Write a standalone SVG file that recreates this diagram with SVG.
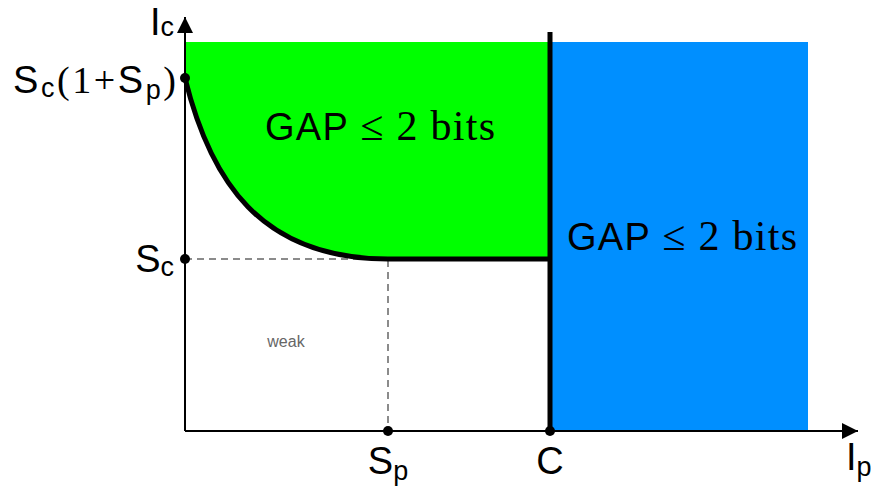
<svg xmlns="http://www.w3.org/2000/svg" width="872" height="489" viewBox="0 0 872 489">
<style>
.lab{font-family:"Liberation Sans","DejaVu Sans",sans-serif;font-size:38px;fill:#000}
.ser{font-family:"Liberation Serif","DejaVu Serif",serif}
.gap{font-size:38px}
.gs{font-size:42px}
.dash{stroke:#666;stroke-width:1.5;stroke-dasharray:7 5;fill:none}
.thick{stroke:#000;stroke-width:5;fill:none}
</style>
<defs>
<marker id="arr" viewBox="0 0 10 10" refX="10" refY="5" markerWidth="16" markerHeight="16" markerUnits="userSpaceOnUse" orient="auto">
<path d="M0,0 L10,5 L0,10 z" fill="#000"/>
</marker>
</defs>
<g id="regions">
<rect id="blue-region" x="550" y="42" width="258" height="389" fill="#008fff"/>
<path id="green-region" d="M185,42 L550,42 L550,259 L388,259 C260,259 210,180 185,78 Z" fill="#00ff00"/>
</g>
<g id="connectors">
<line x1="185" y1="431" x2="185" y2="17" stroke="#000" stroke-width="2" marker-end="url(#arr)"/>
<line x1="185" y1="431" x2="858" y2="431" stroke="#000" stroke-width="2" marker-end="url(#arr)"/>
<path class="dash" d="M185,259 L388,259 L388,431"/>
<path class="thick" d="M185,78 C210,180 260,259 388,259 L550,259"/>
<line class="thick" x1="550" y1="32" x2="550" y2="431"/>
</g>
<g id="points" fill="#000">
<circle cx="185" cy="78" r="5"/>
<circle cx="185" cy="259" r="5"/>
<circle cx="388" cy="431" r="5"/>
<circle cx="550" cy="431" r="5"/>
</g>
<g id="labels">
<text class="lab" x="174" y="35" text-anchor="end">I<tspan font-size="27" dy="1">c</tspan></text>
<text class="lab" x="176" y="93" text-anchor="end" textLength="163">S<tspan font-size="27" dy="4">c</tspan><tspan class="ser" dy="-4">(1+</tspan>S<tspan font-size="27" dy="6">p</tspan><tspan class="ser" dy="-6">)</tspan></text>
<text class="lab" x="174" y="272" text-anchor="end">S<tspan font-size="27" dy="4">c</tspan></text>
<text class="lab" x="388" y="474" text-anchor="middle">S<tspan font-size="27" dy="6">p</tspan></text>
<text class="lab" x="550" y="474" text-anchor="middle">C</text>
<text class="lab" x="846" y="470">I<tspan font-size="27" dy="6">p</tspan></text>
<text x="286" y="347" text-anchor="middle" font-family="Liberation Sans, sans-serif" font-size="16" fill="#666">weak</text>
</g>
<g id="gap-green">
<text class="lab gap" x="265" y="140" textLength="230">GAP <tspan class="ser gs">≤ 2 bits</tspan></text>
</g>
<g id="gap-blue">
<text class="lab gap" x="567" y="250" textLength="230">GAP <tspan class="ser gs">≤ 2 bits</tspan></text>
</g>
</svg>
